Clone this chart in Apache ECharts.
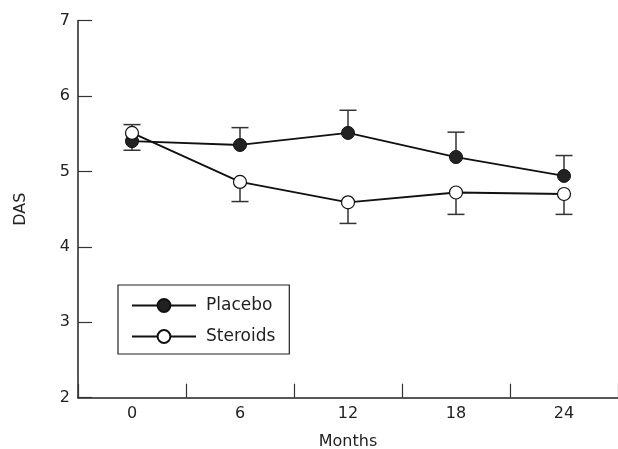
<!DOCTYPE html>
<html><head><meta charset="utf-8">
<script src="https://cdn.jsdelivr.net/npm/echarts@6/dist/echarts.min.js"></script>
<style>html,body{margin:0;padding:0;background:#fff}#c{width:618px;height:449px}</style>
</head><body><div id="c"></div>
<script>
const months = ['0', '6', '12', '18', '24'];
const placebo = [5.40, 5.35, 5.51, 5.19, 4.94];
const steroids = [5.51, 4.86, 4.59, 4.72, 4.70];
// end value of the single error bar drawn for each point
const placeboBarEnd = [5.28, 5.58, 5.81, 5.52, 5.21];
const steroidsBarEnd = [5.62, 4.60, 4.31, 4.43, 4.43];
const yTicks = [2, 3, 4, 5, 6, 7];

const FONT = 'DejaVu Sans';
const chart = echarts.init(document.getElementById('c'));

function errSeries(name, vals, ends) {
  return {
    type: 'custom', name: name + ' err', z: 1,
    data: vals.map((v, i) => [i, v, ends[i]]),
    renderItem: function (params, api) {
      const p0 = api.coord([api.value(0), api.value(1)]);
      const p1 = api.coord([api.value(0), api.value(2)]);
      const hw = 8.5;
      const st = { stroke: '#333', lineWidth: 1.5 };
      return { type: 'group', children: [
        { type: 'line', shape: { x1: p0[0], y1: p0[1], x2: p1[0], y2: p1[1] }, style: st },
        { type: 'line', shape: { x1: p1[0] - hw, y1: p1[1], x2: p1[0] + hw, y2: p1[1] }, style: st }
      ]};
    },
    silent: true
  };
}

chart.setOption({
  animation: false,
  backgroundColor: '#fff',
  textStyle: { fontFamily: FONT },
  grid: { left: 78, right: 0, top: 20.5, bottom: 51.3, containLabel: false, outerBoundsMode: 'none' },
  legend: {
    orient: 'vertical', left: 118, top: 285,
    data: ['Placebo', 'Steroids'],
    borderColor: '#222', borderWidth: 1.2,
    padding: [12, 14, 9, 13],
    itemWidth: 64, itemHeight: 16, itemGap: 14,
    textStyle: { fontFamily: FONT, fontSize: 17, color: '#222', padding: [0, 0, 0, 5] }
  },
  xAxis: {
    type: 'category', data: months, boundaryGap: true,
    name: 'Months', nameLocation: 'middle', nameGap: 36,
    nameTextStyle: { fontFamily: FONT, fontSize: 16, color: '#222' },
    axisLine: { lineStyle: { color: '#222', width: 1.5 } },
    axisTick: { show: true, interval: 0, inside: true, length: 14, lineStyle: { color: '#333', width: 1.2 } },
    axisLabel: { fontFamily: FONT, fontSize: 16, color: '#222', margin: 8 },
    splitLine: { show: false }
  },
  yAxis: {
    type: 'value', min: yTicks[0], max: yTicks[yTicks.length - 1], interval: 1,
    name: 'DAS', nameLocation: 'middle', nameGap: 49,
    nameTextStyle: { fontFamily: FONT, fontSize: 16, color: '#222' },
    axisLine: { show: true, lineStyle: { color: '#222', width: 1.5 } },
    axisTick: { show: true, inside: true, length: 14, lineStyle: { color: '#333', width: 1.2 } },
    axisLabel: { fontFamily: FONT, fontSize: 16, color: '#222', margin: 8 },
    splitLine: { show: false }
  },
  series: [
    errSeries('Placebo', placebo, placeboBarEnd),
    errSeries('Steroids', steroids, steroidsBarEnd),
    {
      name: 'Placebo', type: 'line', data: placebo, z: 3,
      symbol: 'circle', symbolSize: 13,
      lineStyle: { color: '#111', width: 1.8 },
      itemStyle: { color: '#222', borderColor: '#111', borderWidth: 1 }
    },
    {
      name: 'Steroids', type: 'line', data: steroids, z: 4,
      symbol: 'circle', symbolSize: 13,
      lineStyle: { color: '#111', width: 1.8 },
      itemStyle: { color: '#fff', borderColor: '#111', borderWidth: 1.2 }
    }
  ]
});
</script>
</body></html>
